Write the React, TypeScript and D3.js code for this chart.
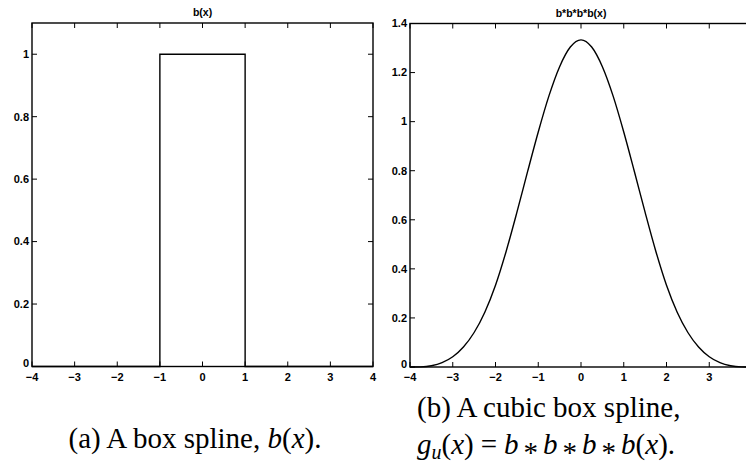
import React from 'react';
import * as d3 from 'd3';

// Tick values along x for each panel (the right panel is cut at x = 4)
const boxXTicks = [-4, -3, -2, -1, 0, 1, 2, 3, 4];
const splineXTicks = [-4, -3, -2, -1, 0, 1, 2, 3];

// Box spline b(x): unit box on [-1, 1]
const boxX = [-4, -1, -1, 1, 1, 4];
const boxY = [0, 0, 1, 1, 0, 0];
const boxYTicks = [0, 0.2, 0.4, 0.6, 0.8, 1];

// Cubic box spline b*b*b*b(x)
const splineX = [
  -4, -3.75, -3.5, -3.25, -3, -2.75, -2.5, -2.25, -2, -1.75, -1.5, -1.25, -1, -0.75, -0.5, -0.25,
  0, 0.25, 0.5, 0.75, 1, 1.25, 1.5, 1.75, 2, 2.25, 2.5, 2.75, 3, 3.25, 3.5, 3.75, 4,
];
const splineY = [
  0, 0.0007, 0.0052, 0.0176, 0.0417, 0.0814, 0.1406, 0.2233, 0.3333, 0.472, 0.63, 0.796, 0.958, 1.105, 1.224, 1.304,
  1.3333, 1.304, 1.224, 1.105, 0.958, 0.796, 0.63, 0.472, 0.3333, 0.2233, 0.1406, 0.0814, 0.0417, 0.0176, 0.0052, 0.0007, 0,
];
const splineYTicks = [0, 0.2, 0.4, 0.6, 0.8, 1, 1.2, 1.4];

const titles = ['b(x)', 'b*b*b*b(x)'];

const fmt = (v: number) => d3.format('~g')(v).replace('-', '\u2212');

type PanelProps = {
  left: number;
  right: number;
  top: number;
  bottom: number;
  yMax: number;
  xTicks: number[];
  yTicks: number[];
  xs: number[];
  ys: number[];
  title: string;
  smooth: boolean;
};

function Panel({ left, right, top, bottom, yMax, xTicks, yTicks, xs, ys, title, smooth }: PanelProps) {
  const x = d3.scaleLinear().domain([-4, 4]).range([left, right]);
  const y = d3.scaleLinear().domain([0, yMax]).range([bottom, top]);
  const line = d3
    .line<number>()
    .x((_, i) => x(xs[i]))
    .y((d) => y(d))
    .curve(smooth ? d3.curveMonotoneX : d3.curveLinear);
  const tick = 5;
  const labelFont = { fontFamily: 'Liberation Sans, Arial, sans-serif', fontSize: 11, fontWeight: 700 };
  return (
    <g>
      <text
        x={(left + right) / 2}
        y={top - 7}
        textAnchor="middle"
        style={{ fontFamily: 'Liberation Sans, Arial, sans-serif', fontSize: 10.5, fontWeight: 700 }}
      >
        {title}
      </text>
      <path d={line(ys) || ''} fill="none" stroke="#000" strokeWidth={1.4} />
      <rect x={left} y={top} width={right - left} height={bottom - top} fill="none" stroke="#000" strokeWidth={1.4} />
      {xTicks.map((t) => (
        <g key={'x' + t}>
          <line x1={x(t)} x2={x(t)} y1={bottom} y2={bottom - tick} stroke="#000" strokeWidth={1} />
          <line x1={x(t)} x2={x(t)} y1={top} y2={top + tick} stroke="#000" strokeWidth={1} />
          <text x={x(t)} y={bottom + 14} textAnchor="middle" style={labelFont}>
            {fmt(t)}
          </text>
        </g>
      ))}
      {yTicks.map((t) => (
        <g key={'y' + t}>
          <line x1={left} x2={left + tick} y1={y(t)} y2={y(t)} stroke="#000" strokeWidth={1} />
          <line x1={right} x2={right - tick} y1={y(t)} y2={y(t)} stroke="#000" strokeWidth={1} />
          <text x={left - 3} y={y(t) - (t === 0 ? 3 : 0)} dy="0.35em" textAnchor="end" style={labelFont}>
            {fmt(t)}
          </text>
        </g>
      ))}
    </g>
  );
}

// Convolution operator drawn as a lowered asterisk
function Ast() {
  return (
    <>
      <tspan dx={5} dy={8}>*</tspan>
      <tspan dx={5} dy={-8} fontStyle="italic">b</tspan>
    </>
  );
}

export default function App() {
  const serif = { fontFamily: '"Liberation Serif", "Times New Roman", serif', fontSize: 29 };
  return (
    <div style={{ position: 'fixed', left: 0, top: 0 }}>
      <svg width={746} height={471} style={{ display: 'block', background: '#fff' }}>
        <Panel
          left={32}
          right={373}
          top={23}
          bottom={366.5}
          yMax={1.1}
          xTicks={boxXTicks}
          yTicks={boxYTicks}
          xs={boxX}
          ys={boxY}
          title={titles[0]}
          smooth={false}
        />
        <Panel
          left={410}
          right={752}
          top={23.5}
          bottom={367}
          yMax={1.4}
          xTicks={splineXTicks}
          yTicks={splineYTicks}
          xs={splineX}
          ys={splineY}
          title={titles[1]}
          smooth={true}
        />
        <text x={195} y={448} textAnchor="middle" style={serif}>
          (a) A box spline, <tspan fontStyle="italic">b</tspan>(<tspan fontStyle="italic">x</tspan>).
        </text>
        <text x={417} y={417} style={serif}>
          (b) A cubic box spline,
        </text>
        <text x={417} y={454} style={serif}>
          <tspan fontStyle="italic">g</tspan>
          <tspan fontStyle="italic" fontSize={20} dy={5}>u</tspan>
          <tspan dy={-5}>(</tspan>
          <tspan fontStyle="italic">x</tspan>
          <tspan>)</tspan>
          <tspan dx={7}>=</tspan>
          <tspan dx={7} fontStyle="italic">b</tspan>
          <Ast />
          <Ast />
          <Ast />
          <tspan>(</tspan>
          <tspan fontStyle="italic">x</tspan>
          <tspan>).</tspan>
        </text>
      </svg>
    </div>
  );
}
